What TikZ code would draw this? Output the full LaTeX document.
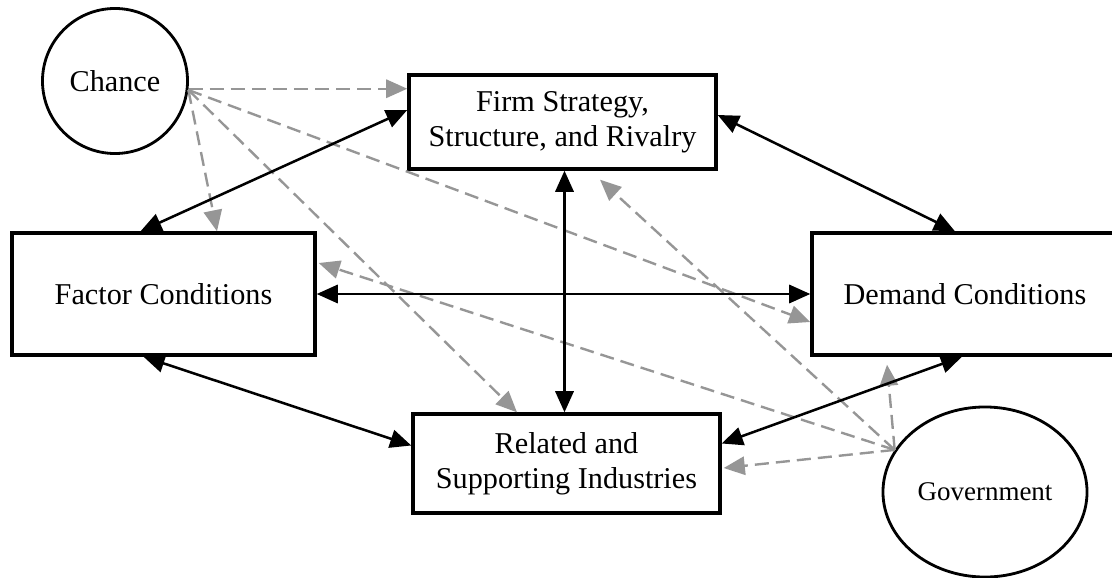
\documentclass[tikz,border=0pt]{standalone}
\usepackage{fontspec}
\setmainfont{Liberation Serif}
\usepackage{tikz}
\usetikzlibrary{shapes.geometric,positioning,calc,arrows.meta}
\definecolor{hintgray}{RGB}{150,150,150}
\begin{document}
\begin{tikzpicture}[x=0.025cm, y=-0.025cm,
    font=\fontsize{21.5}{25}\selectfont,
    box/.style={draw, line width=2.4pt, rectangle, align=center, inner sep=0pt},
    link/.style={{Triangle[length=15pt,width=13pt]}-{Triangle[length=15pt,width=13pt]}, line width=1.8pt},
    hint/.style={-{Triangle[length=15pt,width=13pt]}, hintgray, line width=1.7pt, dash pattern=on 10pt off 5pt}]
    \useasboundingbox (0,0) rectangle (1112,578);

    % the four boxes of the diamond
    \node[box, minimum width=7.675cm, minimum height=2.35cm] (firm) at (562.5,122) {Firm Strategy,\\Structure, and Rivalry};
    \node[box, minimum width=7.575cm, minimum height=3.05cm] (factor) at (163.5,294) {Factor Conditions};
    \node[box, minimum width=7.65cm, minimum height=3.05cm] (demand) at (965,294) {Demand Conditions};
    \node[box, minimum width=7.675cm, minimum height=2.475cm] (related) at (566.5,463.5) {Related and\\Supporting Industries};

    % outside influences
    \node[draw, circle, line width=2pt, minimum size=3.625cm, inner sep=0pt] (chance) at (115,81) {Chance};
    \node[draw, ellipse, line width=2pt, minimum width=5.1cm, minimum height=4.25cm, inner sep=0pt,
          font=\fontsize{19.2}{23}\selectfont] (gov) at (985,492) {Government};

    % dashed influences
    \draw[hint] (chance.-6) -- (chance.-6 -| firm.west);
    \draw[hint] (chance.-7) -- ($(factor.north)+(53.5,0)$);
    \draw[hint] (chance.-7) -- ($(related.north)+(-49.5,0)$);
    \draw[hint] (chance.-7) -- ($(demand.west)+(0,28)$);
    \draw[hint] (gov.155) -- ($(firm.south)+(37.5,9)$);
    \draw[hint] (gov.155) -- ($(factor.east)+(2,-31)$);
    \draw[hint] (gov.155) -- ($(demand.south)+(-78,8)$);
    \draw[hint] (gov.155) -- ($(related.east)+(2,4.5)$);

    % mutual links
    \draw[link] ($(factor.north)+(-23,0)$) -- ($(firm.west)+(0,-12)$);
    \draw[link] ($(firm.east)+(0,-7)$) -- ($(demand.north)+(-10,0)$);
    \draw[link] (factor.east) -- (demand.west);
    \draw[link] ($(firm.south)+(2,0)$) -- ($(related.north)+(-2,0)$);
    \draw[link] ($(factor.south)+(-20,0)$) -- ($(related.west)+(0,-18)$);
    \draw[link] ($(demand.south)+(-3,0)$) -- ($(related.east)+(0,-20)$);
\end{tikzpicture}
\end{document}
